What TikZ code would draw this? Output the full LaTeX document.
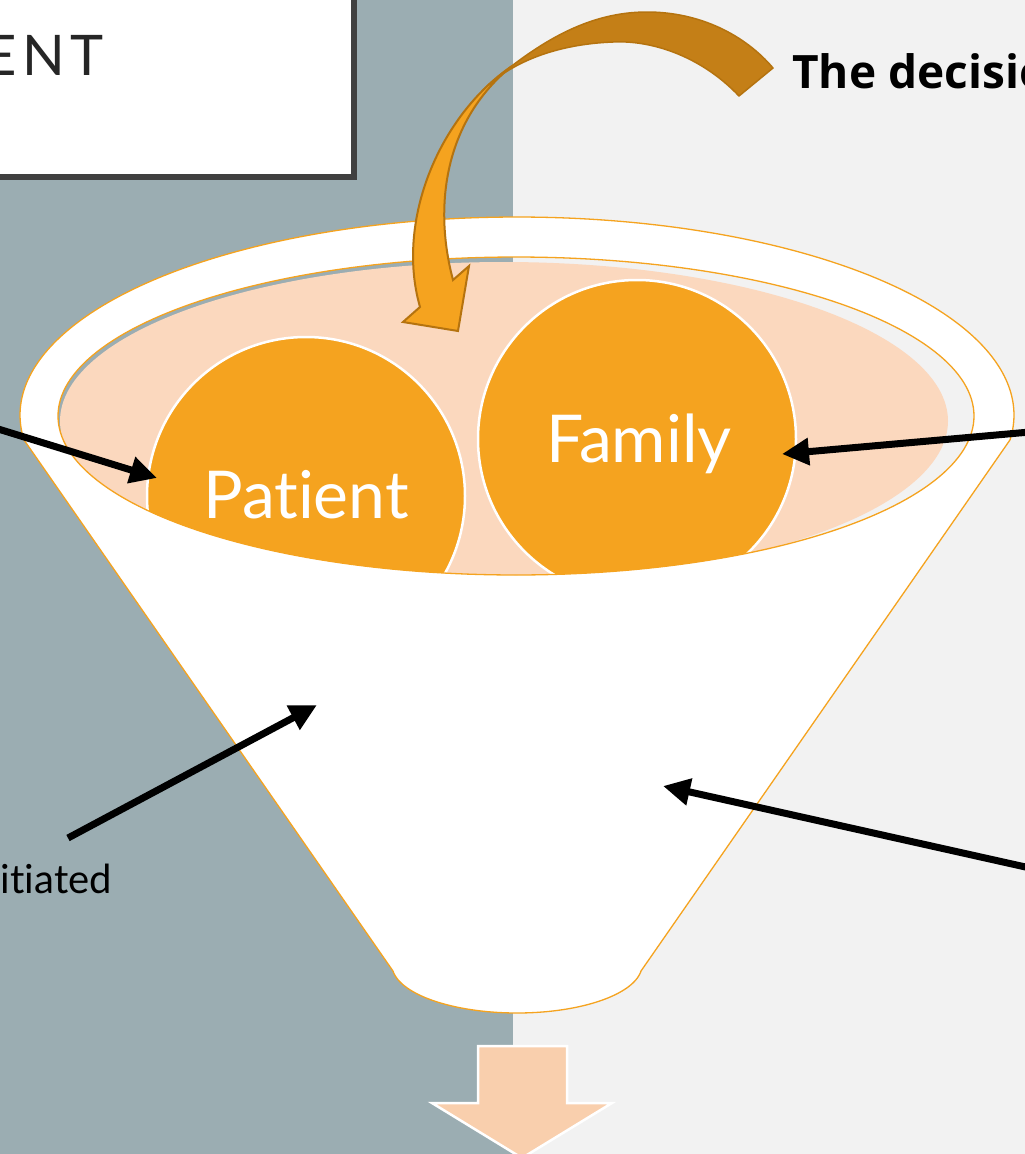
\documentclass[tikz,border=0pt]{standalone}
\usepackage{fontspec}
\setmainfont{Lato}[Ligatures={NoCommon,NoRequired}, RawFeature=-liga;-dlig;-clig]
\newfontfamily\titlefont[LetterSpace=10]{Lato}
\newfontfamily\osans{Open Sans}
\usetikzlibrary{arrows.meta}
\definecolor{panelL}{HTML}{9BADB2}
\definecolor{panelR}{HTML}{F2F2F2}
\definecolor{fun}{HTML}{F5A31F}
\definecolor{peach}{HTML}{FBD8BE}
\definecolor{arch}{HTML}{C47F17}
\definecolor{archline}{HTML}{B5730F}
\definecolor{blockpeach}{HTML}{F9CFAD}
\definecolor{boxline}{HTML}{404040}
\definecolor{titletext}{HTML}{262626}
\tikzset{
  blk/.style={line width=7pt, -{Triangle[length=27pt,width=26pt]}},
  ball/.style={circle, draw=white, fill=fun, line width=2.5pt, minimum size=318pt, inner sep=0pt},
  balltext/.style={anchor=base, inner sep=0pt, text=white, font=\fontsize{66}{70}\selectfont},
}
\begin{document}
\begin{tikzpicture}[x=1pt,y=-1pt]
\useasboundingbox (0,0) rectangle (1025,1154);
% background panels
\fill[panelL] (0,0) rectangle (513,1154);
\fill[panelR] (513,0) rectangle (1025,1154);
% title box
\draw[fill=white, draw=boxline, line width=6pt] (-20,-20) rectangle (354,177);
\node[anchor=base east, inner sep=0pt, text=titletext, font=\titlefont\fontsize{56}{60}\selectfont] (title) at (104,75) {ENT};
% back arch of curved arrow
\draw[fill=arch, draw=archline, line width=1.5pt, line join=round]
  (485,88) .. controls (540,40) and (590,12) .. (647,12)
  .. controls (700,12) and (745,35) .. (773,68)
  -- (739,96)
  .. controls (700,55) and (650,40) .. (613,42)
  .. controls (560,44) and (515,60) .. (485,88) -- cycle;
% heading text
\node[anchor=base west, inner sep=0pt, font=\osans\bfseries\fontsize{46}{50}\selectfont] (dec) at (792,88) {The decision};
% funnel body (outer rim + cone)
\draw[fill=white, draw=fun, line width=1.3pt, line join=round]
  plot[domain=172.8:367.2, samples=200, variable=\t] ({517+497*cos(\t)},{415+198*sin(\t)})
  -- (641,971)
  -- plot[domain=7.2:172.8, samples=80, variable=\t] ({517+125*cos(\t)},{965+48*sin(\t)})
  -- cycle;
% inside of the rim
\begin{scope}
  \clip plot[domain=0:360, samples=241, variable=\t] ({516+458*cos(\t)},{416+159*sin(\t)}) -- cycle;
  \fill[panelL] (0,200) rectangle (513,600);
  \fill[panelR] (513,200) rectangle (1025,600);
  \fill[peach] plot[domain=0:360, samples=241, variable=\t] ({504+444*cos(\t)},{421+159*sin(\t)}) -- cycle;
  \node[ball] (pcirc) at (306,496) {};
  \node[ball] (fcirc) at (637,439) {};
  \node[balltext] (ptext) at (306,518) {Patient};
  \node[balltext] (ftext) at (639,462) {Family};
\end{scope}
\draw[fun, line width=1.3pt] plot[domain=0:360, samples=241, variable=\t] ({516+458*cos(\t)},{416+159*sin(\t)}) -- cycle;
% front part of curved arrow
\draw[fill=fun, draw=archline, line width=2pt, line join=miter]
  (512,66) .. controls (440,115) and (395,220) .. (420,307)
  -- (403,322) -- (458,331) -- (469,266) -- (453,280)
  .. controls (433,205) and (445,120) .. (512,66) -- cycle;
% bottom block arrow
\draw[fill=blockpeach, draw=white, line width=2.5pt, line join=miter]
  (478,1046) -- (567,1046) -- (567,1103) -- (612,1103) -- (522,1158)
  -- (432,1103) -- (478,1103) -- cycle;
% left label
\node[anchor=base east, inner sep=0pt, text=black, font=\fontsize{40}{44}\selectfont] (init) at (112,893) {initiated};
% black arrows
\coordinate (a1s) at (-5,428);
\coordinate (a1e) at (157,478);
\coordinate (a2s) at (1030,432);
\coordinate (a2e) at (782,454);
\coordinate (a3s) at (68,838);
\coordinate (a3e) at (317,705);
\coordinate (a4s) at (1030,868);
\coordinate (a4e) at (663,786);
\draw[blk] (a1s) -- (a1e);
\draw[blk] (a2s) -- (a2e);
\draw[blk] (a3s) -- (a3e);
\draw[blk] (a4s) -- (a4e);
\end{tikzpicture}
\end{document}
